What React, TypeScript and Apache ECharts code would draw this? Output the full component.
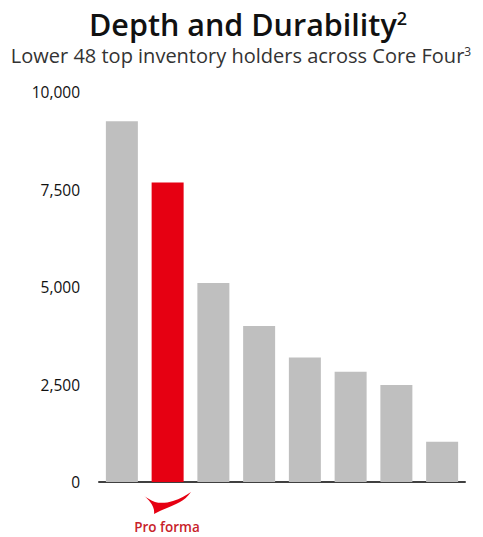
import React, { useEffect, useRef } from "react";
import * as echarts from "echarts";

const holders = ["A", "B", "C", "D", "E", "F", "G", "H"];
const inventory = [9250, 7680, 5100, 4000, 3190, 2830, 2490, 1030];
const highlightedHolder = "B";
const yTicks = [0, 2500, 5000, 7500, 10000];

const GREY = "#bfbfbf";
const RED = "#e60012";
const FONT = '"Open Sans", "Noto Sans", sans-serif';

echarts.graphic.registerShape(
  "proFormaMark",
  echarts.graphic.extendPath(
    "M0,3 C4,6 8,8.5 12,10 C17,11.5 24,11 30,9 C37,7 43,3 48,0 C44,5 41,8 37,10 C30,14 20,17 11,22 C12,16 8,9 0,3 Z",
    {}
  )
);

export default function App() {
  const ref = useRef<HTMLDivElement>(null);

  useEffect(() => {
    const chart = echarts.init(ref.current!, undefined, { renderer: "svg" });
    chart.setOption({
      animation: false,
      backgroundColor: "#ffffff",
      grid: { left: 99, right: 18, top: 92, bottom: 55, containLabel: false },
      xAxis: {
        type: "category",
        data: holders,
        axisTick: { show: false },
        axisLabel: { show: false },
        axisLine: { lineStyle: { color: "#404040", width: 2 } },
      },
      yAxis: {
        type: "value",
        min: 0,
        max: 10000,
        interval: 2500,
        splitLine: { show: false },
        axisLine: { show: false },
        axisTick: { show: false },
        axisLabel: {
          margin: 19,
          color: "#111111",
          fontFamily: FONT,
          fontSize: 15.5,
          formatter: (v: number) =>
            yTicks.includes(v) ? v.toLocaleString("en-US") : "",
        },
      },
      series: [
        {
          type: "bar",
          barWidth: 32,
          silent: true,
          data: inventory.map((value, i) => ({
            value,
            itemStyle: { color: holders[i] === highlightedHolder ? RED : GREY },
          })),
        },
      ],
      graphic: [
        {
          type: "text",
          x: 248,
          y: 24,
          style: {
            text: "{t|Depth and Durability}{s|2}",
            align: "center",
            verticalAlign: "middle",
            fontFamily: FONT,
            rich: {
              t: { fontFamily: FONT, fontSize: 30.5, fontWeight: 600, fill: "#111111", lineHeight: 40 },
              s: { fontFamily: FONT, fontSize: 18, fontWeight: 600, fill: "#111111", lineHeight: 40, padding: [0, 0, 13, 0] },
            },
          },
        },
        {
          type: "text",
          x: 241,
          y: 55,
          style: {
            text: "{t|Lower 48 top inventory holders across Core Four}{s|3}",
            align: "center",
            verticalAlign: "middle",
            fontFamily: FONT,
            rich: {
              t: { fontFamily: FONT, fontSize: 20, fill: "#333333", lineHeight: 28 },
              s: { fontFamily: FONT, fontSize: 12, fill: "#333333", lineHeight: 28, padding: [0, 0, 8, 0] },
            },
          },
        },
        {
          type: "proFormaMark",
          x: 143,
          y: 492,
          style: { fill: RED },
        },
        {
          type: "text",
          x: 167,
          y: 527,
          style: {
            text: "Pro forma",
            align: "center",
            verticalAlign: "middle",
            fontFamily: FONT,
            fontSize: 13.5,
            fontWeight: 600,
            fill: "#c8222a",
          },
        },
      ],
    });
    return () => chart.dispose();
  }, []);

  return (
    <div
      ref={ref}
      style={{ position: "fixed", left: 0, top: 0, width: 483, height: 537 }}
    />
  );
}
